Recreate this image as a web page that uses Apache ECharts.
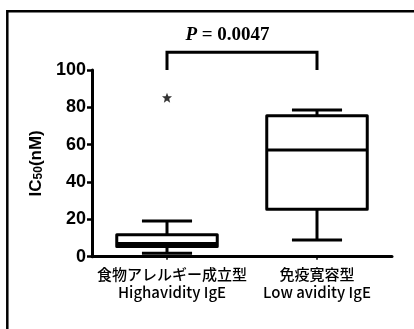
<!DOCTYPE html>
<html>
<head>
<meta charset="utf-8">
<script src="https://cdn.jsdelivr.net/npm/echarts@6/dist/echarts.min.js"></script>
<style>html,body{margin:0;padding:0;background:#fff;}#c{width:414px;height:329px;}</style>
</head>
<body>
<div id="c"></div>
<script>
// ---- data ----
const categories = ['食物アレルギー成立型\nHighavidity IgE', '免疫寛容型\nLow avidity IgE'];
const boxMin    = [1.8, 8.9];
const boxQ1     = [5.5, 25.4];
const boxMedian = [7.1, 57.1];
const boxQ3     = [11.8, 75.5];
const boxMax    = [19.1, 78.6];
const outlierCat = [0];
const outlierVal = [85.2];
const yMin = 0, yMax = 100, yInterval = 20;
const bracketBase = 100, bracketTop = 109.5;
const pLabel = '0.0047';

const boxData = categories.map((c, i) => [i, boxMin[i], boxQ1[i], boxMedian[i], boxQ3[i], boxMax[i]]);
const outlierData = outlierCat.map((c, i) => [c, outlierVal[i]]);
const xAxisData = categories.map((c, i) => i === 0 ? {value: c, textStyle: {padding: [0, 0, 0, 10]}} : c);

const chart = echarts.init(document.getElementById('c'), null, {renderer: 'canvas'});
const LW = 3;
const lineStyle = {stroke: '#000', lineWidth: LW, fill: null, lineJoin: 'round', lineCap: 'butt'};
const SANS = '"Liberation Sans", Arial, sans-serif';

function renderBox(params, api) {
  const x = api.value(0);
  const band = api.size([1, 0])[0];
  const hw = band * 0.335;
  const cw = band * 0.167;
  const pMin = api.coord([x, api.value(1)]);
  const pQ1 = api.coord([x, api.value(2)]);
  const pMed = api.coord([x, api.value(3)]);
  const pQ3 = api.coord([x, api.value(4)]);
  const pMax = api.coord([x, api.value(5)]);
  const cx = pMin[0];
  return {
    type: 'group',
    children: [
      {type: 'rect', shape: {x: cx - hw, y: pQ3[1], width: hw * 2, height: pQ1[1] - pQ3[1]}, style: lineStyle},
      {type: 'line', shape: {x1: cx - hw, y1: pMed[1], x2: cx + hw, y2: pMed[1]}, style: lineStyle},
      {type: 'line', shape: {x1: cx, y1: pQ3[1], x2: cx, y2: pMax[1]}, style: lineStyle},
      {type: 'line', shape: {x1: cx, y1: pQ1[1], x2: cx, y2: pMin[1]}, style: lineStyle},
      {type: 'line', shape: {x1: cx - cw, y1: pMax[1], x2: cx + cw, y2: pMax[1]}, style: lineStyle},
      {type: 'line', shape: {x1: cx - cw, y1: pMin[1], x2: cx + cw, y2: pMin[1]}, style: lineStyle}
    ]
  };
}

function renderBracket(params, api) {
  const a = api.coord([api.value(0), api.value(2)]);
  const b = api.coord([api.value(0), api.value(3)]);
  const c = api.coord([api.value(1), api.value(3)]);
  const d = api.coord([api.value(1), api.value(2)]);
  return {
    type: 'polyline',
    shape: {points: [a, b, c, d]},
    style: {stroke: '#000', lineWidth: LW, fill: null, lineJoin: 'miter'}
  };
}

const starPath = 'path://M50,0 L63,33 L98,35 L71,58 L80,94 L50,74 L20,94 L29,58 L2,35 L37,33 Z';

chart.setOption({
  backgroundColor: '#fff',
  animation: false,
  grid: {left: 92, right: 22, top: 70, bottom: 72.3, containLabel: false},
  xAxis: {
    type: 'category',
    data: xAxisData,
    axisLine: {lineStyle: {color: '#000', width: LW}},
    axisTick: {show: true, alignWithLabel: true, length: 3, lineStyle: {color: '#000', width: 1.5}},
    axisLabel: {
      color: '#000', fontSize: 15, lineHeight: 18, margin: 9, fontWeight: 500,
      fontFamily: '"Noto Sans CJK JP", sans-serif', interval: 0
    },
    splitLine: {show: false}
  },
  yAxis: {
    type: 'value',
    min: yMin, max: yMax, interval: yInterval,
    name: 'IC{sub|50}(nM)',
    nameLocation: 'middle',
    nameRotate: 90,
    nameGap: 43,
    nameTextStyle: {
      color: '#000', fontSize: 17, fontWeight: 'bold', fontFamily: SANS,
      rich: {sub: {fontSize: 12, fontWeight: 'bold', verticalAlign: 'bottom', padding: [6, 0, 0, 0], fontFamily: SANS}}
    },
    axisLine: {show: true, lineStyle: {color: '#000', width: LW}},
    axisTick: {show: true, length: 5, lineStyle: {color: '#000', width: 2.5}},
    axisLabel: {color: '#000', fontSize: 18, fontWeight: 'bold', margin: 6, fontFamily: SANS},
    splitLine: {show: false}
  },
  graphic: [
    {type: 'rect', z: -10, shape: {x: 7.3, y: 11.3, width: 700, height: 700}, style: {fill: null, stroke: '#000', lineWidth: 2.5}},
    {
      type: 'text', x: 227.5, y: 35,
      style: {
        text: '{i|P} = ' + pLabel,
        rich: {i: {fontStyle: 'italic', fontWeight: 'bold', fontSize: 19, fontFamily: '"Liberation Serif", serif'}},
        fontSize: 19, fontWeight: 'bold', fontFamily: '"Liberation Serif", serif',
        fill: '#000', align: 'center', verticalAlign: 'middle'
      }
    }
  ],
  series: [
    {
      type: 'custom', renderItem: renderBox, data: boxData, clip: false,
      encode: {x: 0, y: [1, 2, 3, 4, 5]}
    },
    {
      type: 'custom', renderItem: renderBracket, data: [[0, 1, bracketBase, bracketTop]], clip: false,
      encode: {x: [0, 1], y: [2, 3]}
    },
    {
      type: 'scatter', data: outlierData, symbol: starPath, symbolSize: 10,
      itemStyle: {color: '#000'}, clip: false
    }
  ]
});
</script>
</body>
</html>
